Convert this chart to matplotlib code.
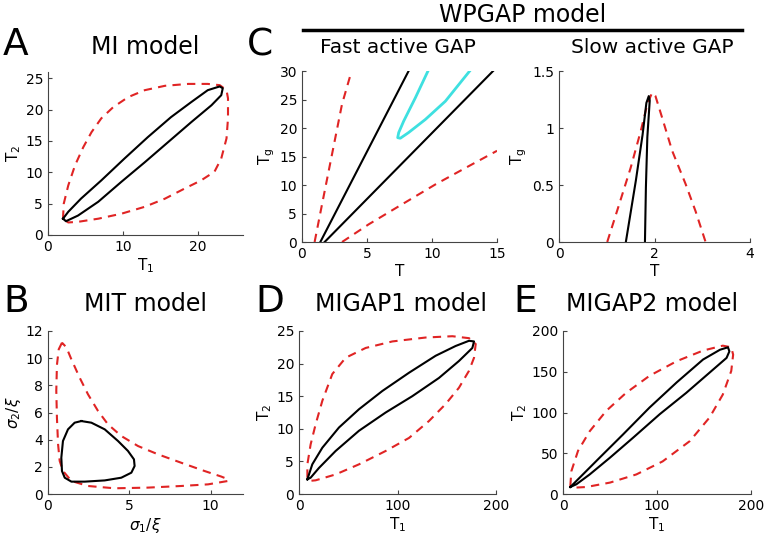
import matplotlib.pyplot as plt

W, H = 765, 537

# ---- panel A: MI model (T1, T2) ----
a_red_x = [2.0, 2.1, 2.7, 3.6, 4.7, 5.8, 7.1, 8.7, 10.7, 12.9, 15.6, 18.7, 21.3, 22.9, 23.8, 24.0,
           24.0, 23.8, 23.1, 22.2, 20.4, 18.2, 15.6, 12.9, 9.8, 6.7, 4.0, 2.7, 2.0]
a_red_y = [2.6, 5.0, 7.9, 11.1, 14.0, 16.4, 18.6, 20.4, 22.0, 23.1, 23.8, 24.1, 24.1, 23.9, 23.1, 21.8,
           18.6, 15.4, 12.2, 10.1, 8.7, 7.4, 5.8, 4.5, 3.4, 2.6, 2.1, 2.0, 2.6]
a_blk_x = [2.0, 2.7, 4.4, 7.1, 10.2, 13.3, 16.4, 19.1, 21.3, 22.9, 23.3, 23.1, 21.8, 19.1, 16.0,
           12.9, 9.8, 6.7, 4.0, 2.4, 2.0]
a_blk_y = [2.6, 3.7, 5.8, 8.7, 12.2, 15.6, 18.8, 21.2, 23.1, 23.7, 23.4, 22.3, 20.7, 18.0, 14.8,
           11.6, 8.5, 5.3, 3.1, 2.2, 2.6]

# ---- panel C left: fast active GAP (T, Tg) ----
cf_red1_x = [0.97, 1.54, 2.31, 3.08, 3.79]
cf_red1_y = [0, 6.6, 15.4, 24.2, 29.8]
cf_red2_x = [3.08, 5.13, 7.69, 10.26, 12.82, 15.0]
cf_red2_y = [0, 3.1, 6.6, 10.1, 13.3, 16.0]
cf_blk1_x = [1.41, 8.2]
cf_blk1_y = [0, 30]
cf_blk2_x = [1.74, 14.7]
cf_blk2_y = [0, 30]
cf_cyan_x = [9.69, 8.72, 7.82, 7.44, 7.36, 7.56, 8.2, 9.49, 11.03, 12.9]
cf_cyan_y = [30, 25.3, 21.2, 19.2, 18.3, 18.2, 19.2, 21.5, 24.7, 30]

# ---- panel C right: slow active GAP ----
cs_red_x = [1.01, 1.26, 1.5, 1.71, 1.85, 1.95, 2.02, 2.16, 2.37, 2.65, 2.86, 3.07]
cs_red_y = [0, 0.33, 0.65, 0.97, 1.21, 1.31, 1.28, 1.09, 0.8, 0.51, 0.27, 0]
cs_blk_x = [1.40, 1.61, 1.75, 1.83, 1.88, 1.90, 1.85, 1.82, 1.80]
cs_blk_y = [0, 0.54, 0.94, 1.22, 1.28, 1.24, 0.92, 0.48, 0]

# ---- panel B: MIT model (sigma1/xi, sigma2/xi) ----
b_red_x = [0.86, 0.66, 0.55, 0.51, 0.55, 0.62, 0.72, 0.92, 1.44, 2.46, 4.1, 6.15, 8.2, 9.85, 11.08,
           11.08, 10.67, 9.64, 8.2, 6.77, 5.54, 4.51, 3.69, 3.08, 2.46, 1.95, 1.44, 1.13, 0.86]
b_red_y = [11.14, 10.65, 9.5, 7.6, 5.6, 3.66, 2.43, 1.7, 0.96, 0.59, 0.42, 0.47, 0.59, 0.71, 0.96,
           1.08, 1.28, 1.69, 2.3, 2.92, 3.53, 4.27, 5.13, 6.11, 7.34, 8.56, 9.91, 10.8, 11.14]
b_blk_x = [2.05, 2.67, 3.49, 4.31, 4.92, 5.29, 5.33, 5.13, 4.51, 3.49, 2.26, 1.44, 1.03, 0.86, 0.82,
           0.92, 1.23, 1.64, 2.05]
b_blk_y = [5.37, 5.25, 4.76, 3.9, 3.17, 2.55, 2.06, 1.57, 1.2, 1.0, 0.91, 0.91, 1.2, 1.69, 2.67,
           3.9, 4.76, 5.25, 5.37]

# ---- panel D: MIGAP1 model ----
d_red_x = [8.5, 8.5, 11.8, 16.9, 23.7, 33.8, 47.4, 67.7, 94.8, 128.6, 155.7, 172.6, 179.4, 177.7,
           172.6, 162.4, 148.9, 132, 111.7, 88, 60.9, 37.2, 16.9, 10.2, 8.5]
d_red_y = [2.5, 4.55, 7.6, 10.7, 14.3, 18.4, 20.9, 22.4, 23.4, 24.0, 24.2, 23.9, 23.0, 20.9,
           18.9, 16.3, 13.8, 11.2, 8.6, 6.6, 4.55, 3.0, 2.1, 2.0, 2.5]
d_blk_x = [8.5, 13.5, 23.7, 40.6, 60.9, 84.6, 111.7, 138.7, 159, 172.6, 177.7, 176, 162.4, 142.1,
           115, 88, 60.9, 37.2, 20.3, 11.8, 8.5]
d_blk_y = [2.25, 4.55, 7.1, 10.2, 13.0, 15.8, 18.6, 21.2, 22.7, 23.5, 23.4, 22.4, 20.4, 17.8,
           15.0, 12.5, 9.7, 6.6, 4.0, 2.5, 2.25]

# ---- panel E: MIGAP2 model ----
e_red_x = [7.8, 8.9, 16, 28.4, 46, 67, 92, 121, 149, 170, 179, 181, 179, 170, 156, 135, 106, 78,
           50, 25, 12.4, 7.8]
e_red_y = [9.8, 28, 53, 77, 102, 124, 145, 163, 176, 182, 180, 171, 151, 122, 94, 65, 40, 24,
           14, 8.6, 7.8, 9.8]
e_blk_x = [7.8, 17.7, 39, 63.8, 92, 121, 149, 167, 175.5, 177, 174, 156, 131, 103, 74.5, 50, 28.4,
           14.2, 7.8]
e_blk_y = [8.6, 20, 44.6, 73, 106, 137, 165, 177, 180, 175, 167, 149, 124, 98, 69, 44.6, 24,
           11.9, 8.6]

RED = '#e02424'
CYAN = '#3ee0e0'
plt.rcParams['font.family'] = 'DejaVu Sans'

fig = plt.figure(figsize=(W / 100, H / 100), dpi=100)


def ax_at(l, t, r, b):
    ax = fig.add_axes([l / W, 1 - b / H, (r - l) / W, (b - t) / H])
    for s in ('top', 'right'):
        ax.spines[s].set_visible(False)
    for s in ('left', 'bottom'):
        ax.spines[s].set_color('#444444')
        ax.spines[s].set_linewidth(0.8)
    ax.tick_params(direction='in', length=3, labelsize=10, color='#444444')
    return ax


def red(ax, x, y):
    ax.plot(x, y, color=RED, lw=1.5, dashes=(4, 3), solid_joinstyle='round', dash_joinstyle='round')


def blk(ax, x, y):
    ax.plot(x, y, color='k', lw=1.5, solid_joinstyle='round')


# A
ax = ax_at(48, 72, 243, 235)
red(ax, a_red_x, a_red_y)
blk(ax, a_blk_x, a_blk_y)
ax.set_xlim(0, 26); ax.set_ylim(0, 26)
ax.set_xticks([0, 10, 20]); ax.set_yticks([0, 5, 10, 15, 20, 25])
ax.set_xlabel(r'$\mathregular{T_1}$', fontsize=11, labelpad=2)
ax.set_ylabel(r'$\mathregular{T_2}$', fontsize=11, labelpad=2)

# C left
ax = ax_at(302, 71, 497, 242)
red(ax, cf_red1_x, cf_red1_y)
red(ax, cf_red2_x, cf_red2_y)
blk(ax, cf_blk1_x, cf_blk1_y)
blk(ax, cf_blk2_x, cf_blk2_y)
ax.plot(cf_cyan_x, cf_cyan_y, color=CYAN, lw=2, solid_joinstyle='round')
ax.set_xlim(0, 15); ax.set_ylim(0, 30)
ax.set_xticks([0, 5, 10, 15]); ax.set_yticks([0, 5, 10, 15, 20, 25, 30])
ax.set_xlabel('T', fontsize=11, labelpad=2)
ax.set_ylabel(r'$\mathregular{T_g}$', fontsize=11, labelpad=2)

# C right
ax = ax_at(559, 71, 750, 242)
red(ax, cs_red_x, cs_red_y)
blk(ax, cs_blk_x, cs_blk_y)
ax.set_xlim(0, 4); ax.set_ylim(0, 1.5)
ax.set_xticks([0, 2, 4]); ax.set_yticks([0, 0.5, 1, 1.5])
ax.set_yticklabels(['0', '0.5', '1', '1.5'])
ax.set_xlabel('T', fontsize=11, labelpad=2)
ax.set_ylabel(r'$\mathregular{T_g}$', fontsize=11, labelpad=2)

# B
ax = ax_at(48, 331, 243, 494)
red(ax, b_red_x, b_red_y)
blk(ax, b_blk_x, b_blk_y)
ax.set_xlim(0, 12); ax.set_ylim(0, 12)
ax.set_xticks([0, 5, 10]); ax.set_yticks([0, 2, 4, 6, 8, 10, 12])
ax.set_xlabel(r'$\sigma_1/\xi$', fontsize=11, labelpad=2)
ax.set_ylabel(r'$\sigma_2/\xi$', fontsize=11, labelpad=2)

# D
ax = ax_at(299, 331, 496, 494)
red(ax, d_red_x, d_red_y)
blk(ax, d_blk_x, d_blk_y)
ax.set_xlim(0, 200); ax.set_ylim(0, 25)
ax.set_xticks([0, 100, 200]); ax.set_yticks([0, 5, 10, 15, 20, 25])
ax.set_xlabel(r'$\mathregular{T_1}$', fontsize=11, labelpad=2)
ax.set_ylabel(r'$\mathregular{T_2}$', fontsize=11, labelpad=2)

# E
ax = ax_at(563, 331, 751, 494)
red(ax, e_red_x, e_red_y)
blk(ax, e_blk_x, e_blk_y)
ax.set_xlim(0, 200); ax.set_ylim(0, 200)
ax.set_xticks([0, 100, 200]); ax.set_yticks([0, 50, 100, 150, 200])
ax.set_xlabel(r'$\mathregular{T_1}$', fontsize=11, labelpad=2)
ax.set_ylabel(r'$\mathregular{T_2}$', fontsize=11, labelpad=2)


def ftext(x, y, s, size, ha='center'):
    fig.text(x / W, 1 - y / H, s, fontsize=size, ha=ha, va='baseline')


ftext(3, 55, 'A', 27, 'left')
ftext(145, 54, 'MI model', 17)
ftext(247, 55, 'C', 27, 'left')
ftext(523, 22, 'WPGAP model', 17)
ftext(398, 53, 'Fast active GAP', 14.5)
ftext(652, 53, 'Slow active GAP', 14.5)
ftext(3, 312, 'B', 27, 'left')
ftext(146, 311, 'MIT model', 17)
ftext(255, 312, 'D', 27, 'left')
ftext(401, 311, 'MIGAP1 model', 17)
ftext(513, 312, 'E', 27, 'left')
ftext(652, 311, 'MIGAP2 model', 17)

fig.add_artist(plt.Line2D([303 / W, 742 / W], [1 - 30 / H, 1 - 30 / H], color='k', lw=2.5))

fig.savefig('out.png', dpi=100)
